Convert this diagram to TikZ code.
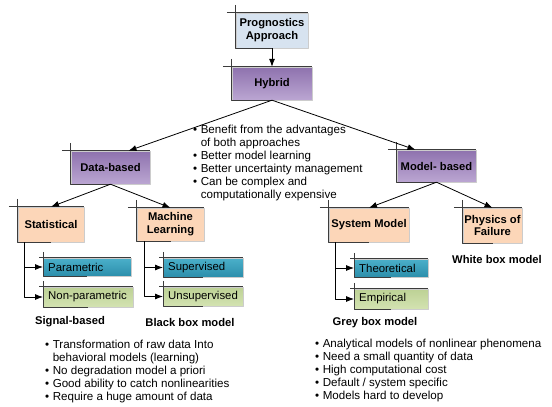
\documentclass[tikz,border=0pt]{standalone}
\usepackage{fontspec}
\setmainfont{Liberation Sans}
\usetikzlibrary{arrows.meta}
\definecolor{progblue}{HTML}{D7E3F0}
\definecolor{purtop}{HTML}{8E72AE}
\definecolor{purbot}{HTML}{BBA6D2}
\definecolor{peach}{HTML}{FCD6B8}
\definecolor{tealtop}{HTML}{4BB0CA}
\definecolor{tealbot}{HTML}{2C8EAB}
\definecolor{greentop}{HTML}{BDD195}
\definecolor{greenbot}{HTML}{D3E3B1}
\definecolor{edgegray}{HTML}{3C3C3C}
\tikzset{
  box/.style={draw=gray!40, line width=0.4pt, inner sep=0pt, font=\bfseries\fontsize{11.2}{12.8}\selectfont, align=center},
  purplebox/.style={box, top color=purtop, bottom color=purbot},
  peachbox/.style={box, fill=peach},
  leaf/.style={draw=gray!40, line width=0.4pt, anchor=west, inner xsep=5pt, inner ysep=0pt, align=left, font=\fontsize{11.4}{12}\selectfont},
  tealleaf/.style={leaf, top color=tealtop, bottom color=tealbot},
  greenleaf/.style={leaf, top color=greentop, bottom color=greenbot},
  frame/.style={draw=edgegray, line width=0.8pt},
  link/.style={->, line width=0.8pt},
  caption/.style={font=\bfseries\fontsize{11.2}{12}\selectfont},
  bullets/.style={anchor=north west, inner sep=0pt, font=\fontsize{11.6}{13}\selectfont}
}
\begin{document}
\begin{tikzpicture}[x=1pt, y=-1pt, line join=round, >={Latex[length=8pt,width=6pt]}]
  \useasboundingbox (0,0) rectangle (552,407);
  % top of the tree
  \node[box, fill=progblue, minimum width=72, minimum height=35] (prog) at (272,30.5) {Prognostics\\Approach};
  \node[purplebox, minimum width=80, minimum height=33] (hyb) at (272,83.5) {Hybrid};
  \node[purplebox, minimum width=79, minimum height=33] (data) at (110.5,167.5) {Data-based};
  \node[purplebox, minimum width=79, minimum height=32] (model) at (436.5,166) {Model- based};
  \node[peachbox, minimum width=66, minimum height=35] (stat) at (51,224.5) {Statistical};
  \node[peachbox, minimum width=67, minimum height=33] (ml) at (170.5,224.5) {Machine\\Learning};
  \node[peachbox, minimum width=80, minimum height=34] (sys) at (369,225) {System Model};
  \node[peachbox, minimum width=59, minimum height=35] (pof) at (492.5,225.5) {Physics of\\Failure};
  % leaves
  \node[tealleaf, text width=78, minimum height=18] (param) at (43,267) {Parametric};
  \node[greenleaf, text width=80, minimum height=20] (nonparam) at (43,297) {Non-parametric};
  \node[tealleaf, text width=70, minimum height=19] (sup) at (163,267.5) {Supervised};
  \node[greenleaf, text width=70, minimum height=19] (unsup) at (163,296.5) {Unsupervised};
  \node[tealleaf, text width=64, minimum height=18] (theo) at (354,268) {Theoretical};
  \node[greenleaf, text width=64, minimum height=20] (emp) at (354,299) {Empirical};
  % corner marks
  \foreach \n in {prog,hyb,data,model,stat,ml,sys,pof}{
    \draw[frame] ([xshift=-9]\n.north west) -- (\n.north east);
    \draw[frame] ([yshift=8]\n.north west) -- (\n.south west) -- (\n.south);
  }
  \foreach \n in {param,nonparam,sup,unsup,theo,emp}{
    \draw[frame] ([xshift=-4]\n.north west) -- (\n.north east);
    \draw[frame] ([yshift=6]\n.north west) -- (\n.south west) -- (\n.south);
  }
  % connectors
  \draw[link] (prog.south) -- (hyb.north);
  \draw[link] (hyb.south) -- ([xshift=18]data.north);
  \draw[link] (hyb.south) -- ([xshift=-21]model.north);
  \draw[link] (data.south) -- (stat.north);
  \draw[link] (data.south) -- (ml.north);
  \draw[link] (model.south) -- (sys.north);
  \draw[link] (model.south) -- (pof.north);
  \draw[link] ([xshift=7]stat.south west) |- (param.west);
  \draw[link] ([xshift=7]stat.south west) |- (nonparam.west);
  \draw[link] ([xshift=8]ml.south west) |- (sup.west);
  \draw[link] ([xshift=8]ml.south west) |- (unsup.west);
  \draw[link] ([xshift=7]sys.south west) |- (theo.west);
  \draw[link] ([xshift=7]sys.south west) |- (emp.west);
  % captions
  \node[caption] (sig) at (70,322) {Signal-based};
  \node[caption] (black) at (190,322) {Black box model};
  \node[caption] (grey) at (375,323) {Grey box model};
  \node[caption] (white) at (497,259) {White box model};
  % bullet lists
  \node[bullets] (hybnotes) at (193,124) {\begin{tabular}{@{}l@{\hspace{3.5pt}}l@{}}
    • & Benefit from the advantages\\
      & of both approaches\\
    • & Better model learning\\
    • & Better uncertainty management\\
    • & Can be complex and\\
      & computationally expensive
  \end{tabular}};
  \node[bullets] (datanotes) at (45,339) {\begin{tabular}{@{}l@{\hspace{3.5pt}}l@{}}
    • & Transformation of raw data Into\\
      & behavioral models (learning)\\
    • & No degradation model a priori\\
    • & Good ability to catch nonlinearities\\
    • & Require a huge amount of data
  \end{tabular}};
  \node[bullets] (modelnotes) at (315,338) {\begin{tabular}{@{}l@{\hspace{3.5pt}}l@{}}
    • & Analytical models of nonlinear phenomena\\
    • & Need a small quantity of data\\
    • & High computational cost\\
    • & Default / system specific\\
    • & Models hard to develop
  \end{tabular}};
\end{tikzpicture}
\end{document}
